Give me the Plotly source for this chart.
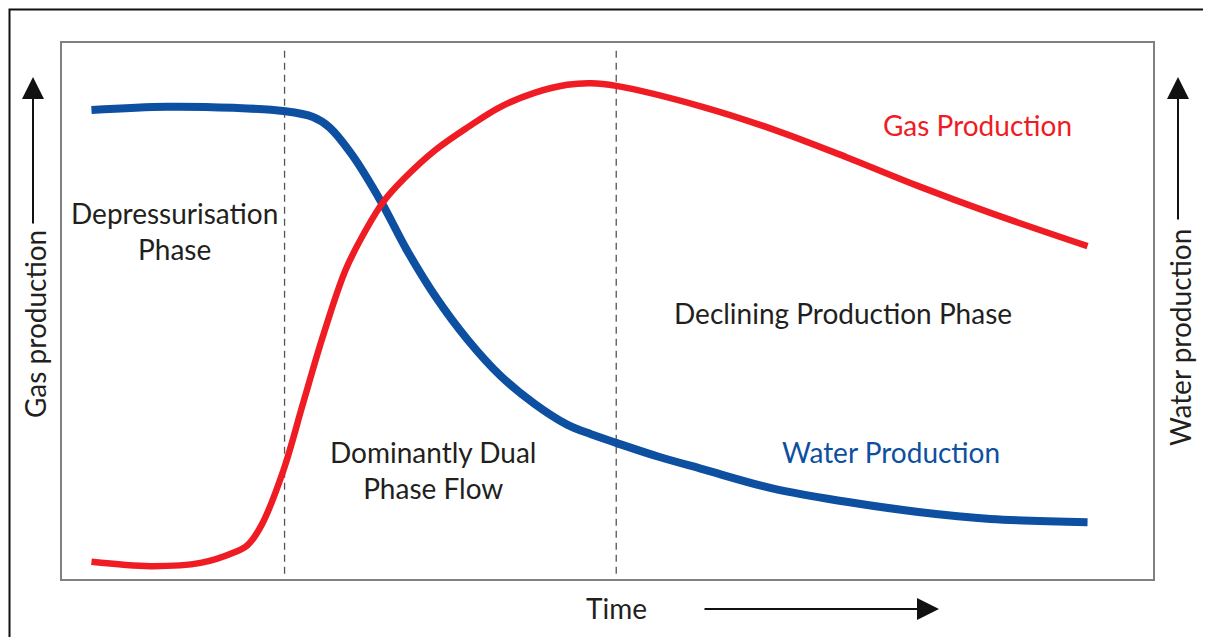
import plotly.graph_objects as go

# Time axis (0-100, arbitrary units) and production values (0-100, arbitrary units)
water_time = [2.7, 9.6, 15.7, 20.3, 23.0, 24.5, 26.6, 29.3, 31.6, 34.2, 37.2, 40.2,
              43.3, 46.3, 48.5, 50.8, 54.7, 58.7, 65.3, 71.9, 78.5, 85.1, 94.0]
water_prod = [87.5, 88.1, 87.9, 87.3, 86.2, 84.3, 79.1, 70.2, 61.4, 52.8, 44.6, 37.9,
              32.7, 28.8, 27.0, 25.4, 22.8, 20.5, 16.8, 14.4, 12.5, 11.2, 10.6]

gas_time = [2.7, 8.1, 12.7, 15.7, 17.0, 18.3, 20.3, 22.1, 23.9, 26.0, 27.9, 29.5,
            31.4, 34.2, 37.2, 40.2, 43.3, 46.3, 48.5, 50.8, 58.7, 65.3, 71.9, 78.5,
            85.1, 94.0]
gas_prod = [3.2, 2.4, 3.0, 4.9, 6.3, 10.1, 20.3, 32.8, 45.2, 57.7, 65.3, 70.5,
            74.8, 80.0, 84.3, 88.1, 90.7, 92.2, 92.5, 92.0, 88.1, 83.8, 78.7, 73.3,
            68.3, 62.1]

phase_boundaries = [20.4, 50.8]

phase_labels = ["Depressurisation<br>Phase", "Dominantly Dual<br>Phase Flow",
                "Declining Production Phase"]
curve_labels = ["Gas Production", "Water Production"]
axis_labels = ["Gas production", "Water production", "Time"]

RED = "#ef1c24"
BLUE = "#0d4fa0"
TXT = "#231f20"
FONT = "Lato"
FS = 28

fig = go.Figure()
fig.add_trace(go.Scatter(x=water_time, y=water_prod, mode="lines",
                         line=dict(color=BLUE, width=8, shape="spline", smoothing=1.0),
                         hoverinfo="skip"))
fig.add_trace(go.Scatter(x=gas_time, y=gas_prod, mode="lines",
                         line=dict(color=RED, width=6.5, shape="spline", smoothing=1.0),
                         hoverinfo="skip"))

for xb in phase_boundaries:
    fig.add_shape(type="line", xref="x", yref="paper", x0=xb, x1=xb, y0=0.01, y1=0.99,
                  line=dict(color="#555555", width=1.3, dash="7px,5px"), layer="below")


# page-pixel -> paper helpers (plot box spans x 62..1153, y 43..579 on the page)
def px(x):
    return (x - 62) / 1091


def py(y):
    return (579 - y) / 536


# outer frame
fig.add_shape(type="rect", xref="paper", yref="paper",
              x0=px(9.5), x1=px(1240), y0=py(660), y1=py(9.5),
              line=dict(color="#111111", width=2))

tf = dict(family=FONT, size=FS, color=TXT)
common = dict(xref="paper", yref="paper", showarrow=False, xanchor="center",
              yanchor="middle")
fig.add_annotation(x=px(174), y=py(231), text=phase_labels[0], font=tf, align="center",
                   **common)
fig.add_annotation(x=px(433), y=py(470), text=phase_labels[1], font=tf, align="center",
                   **common)
fig.add_annotation(x=px(843), y=py(313), text=phase_labels[2], font=tf, **common)
fig.add_annotation(x=px(977), y=py(125), text=curve_labels[0],
                   font=dict(family=FONT, size=FS, color=RED), **common)
fig.add_annotation(x=px(891), y=py(452), text=curve_labels[1],
                   font=dict(family=FONT, size=FS, color=BLUE), **common)

# axis labels
fig.add_annotation(x=px(35), y=py(324), text=axis_labels[0], font=tf, textangle=-90,
                   **common)
fig.add_annotation(x=px(1180), y=py(338), text=axis_labels[1], font=tf, textangle=-90,
                   **common)
fig.add_annotation(x=px(616), y=py(608), text=axis_labels[2], font=tf, **common)

# arrows
arrow = dict(showarrow=True, arrowhead=2, arrowsize=2.2, arrowwidth=2,
             arrowcolor="#111111", text="", xref="paper", yref="paper")
fig.add_annotation(x=px(33), y=py(77), ax=0, ay=148, **arrow)
fig.add_annotation(x=px(1178), y=py(77), ax=0, ay=144, **arrow)
fig.add_annotation(x=px(939), y=py(609), ax=-236, ay=0, **arrow)

# the page body has an 8px margin, so the figure is shrunk by that amount
fig.update_layout(
    width=1203, height=629,
    margin=dict(l=54, r=58, t=35, b=58),
    paper_bgcolor="white", plot_bgcolor="white",
    showlegend=False,
    xaxis=dict(range=[0, 100], showgrid=False, zeroline=False, showticklabels=False,
               ticks="", showline=True, mirror=True, linecolor="#808080", linewidth=2),
    yaxis=dict(range=[0, 100], showgrid=False, zeroline=False, showticklabels=False,
               ticks="", showline=True, mirror=True, linecolor="#808080", linewidth=2),
)

fig.write_html("out.html")
